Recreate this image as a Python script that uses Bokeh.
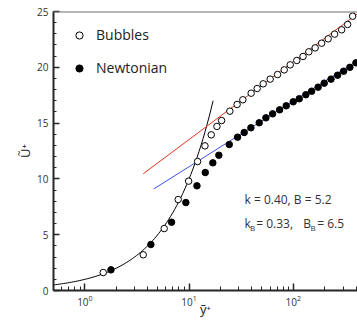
import numpy as np
from bokeh.plotting import figure
from bokeh.models import (Range1d, FixedTicker, Span, Legend, LegendItem, Label)
from bokeh.embed import file_html
from bokeh.resources import INLINE

# ---- data ----
bubbles_y = [1.5, 3.63, 5.77, 7.86, 9.9, 12.06, 14.2, 16.3, 18.5, 20.5, 24.6, 28.9, 32.8,
             39.4, 45.0, 51.4, 60.0, 70.6, 81.8, 93.4, 108, 124, 141, 162, 187, 216,
             249, 291, 332, 371]
bubbles_u = [1.61, 3.2, 5.55, 8.15, 9.8, 11.56, 12.96, 13.95, 14.7, 15.23, 16.07, 16.67, 17.09,
             17.68, 18.1, 18.52, 18.94, 19.35, 19.77, 20.22, 20.61, 20.97, 21.39, 21.74, 22.16,
             22.55, 22.97, 23.36, 23.84, 24.58]
newt_y = [1.78, 4.3, 6.79, 9.31, 11.9, 14.3, 16.9, 19.3, 24.3, 29.2, 33.8, 39.2, 47.1, 54.6,
          63.3, 73.9, 85.5, 99.8, 114, 132, 150, 173, 198, 230, 266, 304, 349, 399]
newt_u = [1.85, 4.12, 6.12, 7.88, 9.38, 10.57, 11.44, 12.12, 13.08, 13.74, 14.16, 14.58, 15.03,
          15.47, 15.83, 16.19, 16.55, 16.91, 17.18, 17.54, 17.86, 18.22, 18.58, 18.94, 19.29,
          19.65, 20.0, 20.4]
# log-law lines (end points)
red_y = [3.63, 413]
red_u = [10.46, 24.8]
blue_y = [4.6, 413]
blue_u = [9.11, 20.6]
# viscous sublayer U+ = y+
visc_range = [0.5, 17.0]

x_major = [1, 10, 100]
x_minor = [0.6, 0.7, 0.8, 0.9, 2, 3, 4, 5, 6, 7, 8, 9, 20, 30, 40, 50, 60, 70, 80, 90, 200, 300, 400]
y_major = [0, 5, 10, 15, 20, 25]
y_minor = list(range(0, 26))

FONT = "Open Sans"
AX = "#262626"

p = figure(width=357, height=320, x_axis_type="log",
           x_range=Range1d(0.5, 413), y_range=Range1d(0, 25),
           output_backend="svg", toolbar_location=None,
           min_border_left=53, min_border_right=0, min_border_top=11, min_border_bottom=30)
p.outline_line_color = None
p.grid.visible = False
p.background_fill_color = "white"

visc_y = np.geomspace(visc_range[0], visc_range[1], 80)
p.line(visc_y, visc_y, line_color="black", line_width=1)
p.line(red_y, red_u, line_color="#e8321e", line_width=1)
p.line(blue_y, blue_u, line_color="#3f4ff5", line_width=1)

r_b = p.scatter(bubbles_y, bubbles_u, marker="circle", size=6.5, fill_color="white",
                line_color="black", line_width=1)
r_n = p.scatter(newt_y, newt_u, marker="circle", size=6.5, fill_color="black",
                line_color="black", line_width=1)

p.add_layout(Span(location=25, dimension="width", line_color="#6e6e6e", line_width=2))

legend = Legend(items=[LegendItem(label="Bubbles", renderers=[r_b]),
                       LegendItem(label="Newtonian", renderers=[r_n])],
                location="top_left", margin=14, padding=0, spacing=14,
                glyph_width=24, glyph_height=18, label_standoff=5,
                label_text_font=FONT, label_text_font_size="14px", label_text_color="#222222",
                background_fill_alpha=0, border_line_color=None)
p.add_layout(legend)

# axes styling
for ax in (p.xaxis[0], p.yaxis[0]):
    ax.axis_line_color = AX
    ax.axis_line_width = 2
    ax.major_tick_line_color = AX
    ax.minor_tick_line_color = AX
    ax.major_tick_line_width = 1.5
    ax.minor_tick_line_width = 1
    ax.major_tick_out = 0
    ax.minor_tick_out = 0
    ax.major_label_text_font = FONT
    ax.major_label_text_font_size = "10px"
    ax.major_label_text_color = "#333333"
    ax.axis_label_text_font = FONT
    ax.axis_label_text_font_style = "normal"
    ax.axis_label_text_font_size = "13px"
    ax.axis_label_text_color = "#222222"

p.xaxis.ticker = FixedTicker(ticks=x_major, minor_ticks=x_minor)
p.xaxis.major_tick_in = 7
p.xaxis.minor_tick_in = 4
p.xaxis.major_label_standoff = 4
p.xaxis.axis_label = "ỹ⁺"
p.xaxis.axis_label_standoff = -9

p.yaxis.ticker = FixedTicker(ticks=y_major, minor_ticks=y_minor)
p.yaxis.major_tick_in = 6
p.yaxis.minor_tick_in = 3
p.yaxis.major_label_standoff = 5
p.yaxis.axis_label = "Ũ⁺"
p.yaxis.axis_label_standoff = 0

# annotations
TC = "#333333"
p.add_layout(Label(x=34, y=8.15, text="k = 0.40, B = 5.2", text_font=FONT,
                   text_font_size="12px", text_color=TC, text_baseline="middle"))
y2 = 6.0
parts = [("k", 0, 0, "12px"), ("B", 5.5, -4, "8px"), ("= 0.33,", 11.7, 0, "12px"),
         ("B", 58.7, 0, "12px"), ("B", 66, -4, "8px"), ("= 6.5", 72.7, 0, "12px")]
for t, dx, dy, fs in parts:
    p.add_layout(Label(x=34, y=y2, x_offset=dx, y_offset=dy, text=t, text_font=FONT,
                       text_font_size=fs, text_color=TC, text_baseline="middle"))

open("out.html", "w").write(file_html(p, INLINE))
